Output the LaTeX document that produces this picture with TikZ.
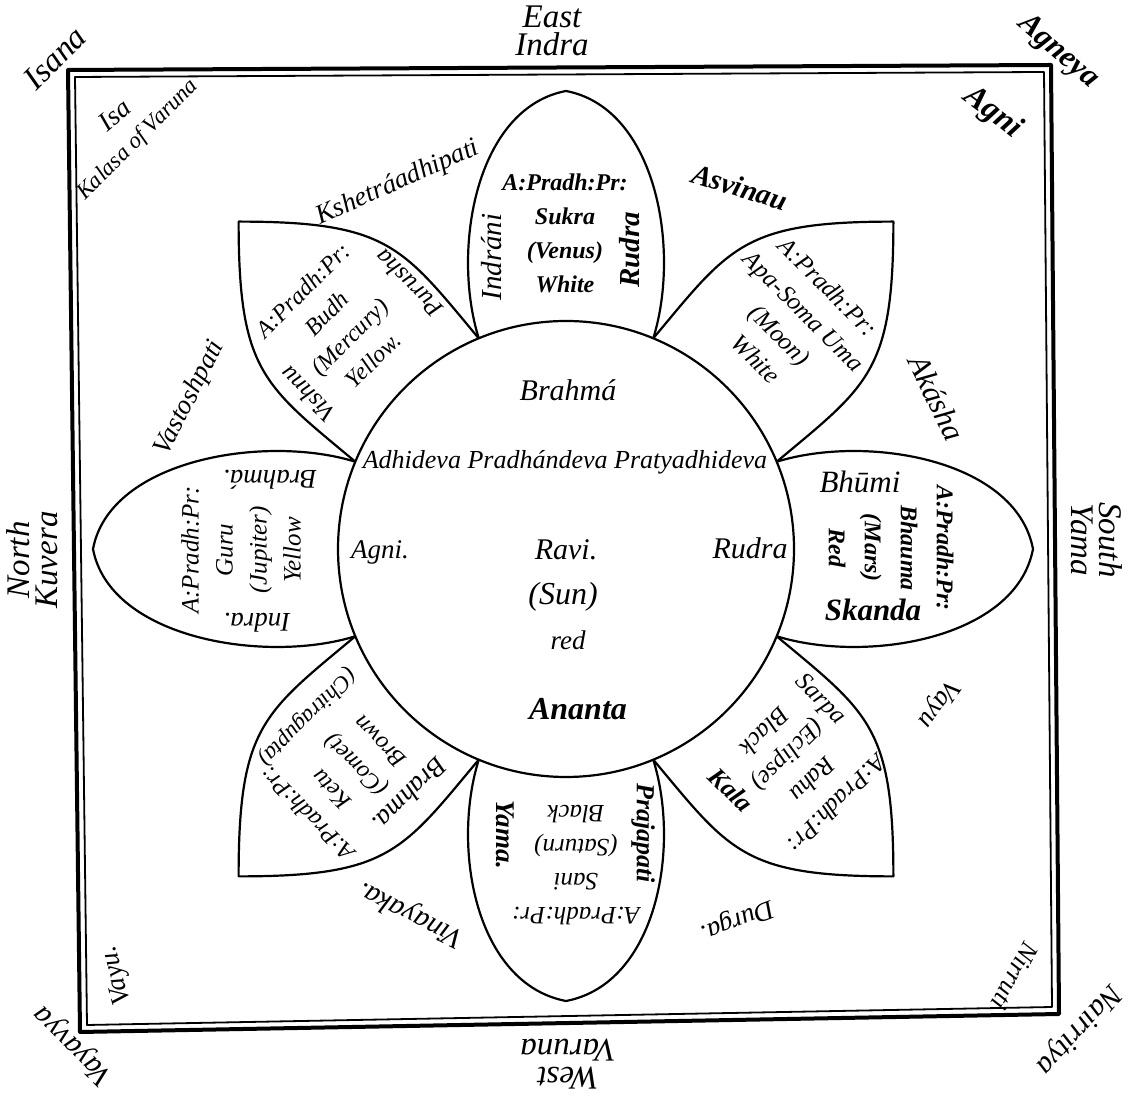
\documentclass[tikz,border=0pt]{standalone}
\usepackage{fontspec}
\setmainfont{Liberation Serif}
\usepackage{tikz}
\definecolor{ink}{RGB}{0,0,0}

\begin{document}
\begin{tikzpicture}[x=1pt,y=1pt,
    petal/.style={draw=ink, line width=2.2pt, line join=round},
    txt/.style={text=ink, inner sep=0pt, font=\fontsize{27}{34}\selectfont\itshape},
    heavy/.style={txt, font=\fontsize{29}{34}\selectfont\bfseries\itshape},
    quarter/.style={text=ink, inner sep=0pt, align=center, font=\fontsize{33}{28}\selectfont\itshape},
    leafline/.style={text=ink, inner sep=0pt, align=center, font=\fontsize{25}{34}\selectfont\itshape}]
    \useasboundingbox (0,0) rectangle (1132,1097);

    % double frame
    \draw[ink, line width=4pt, line join=round] (68,1027) -- (1051,1032) -- (1059,83) -- (80,65) -- cycle;
    \draw[ink, line width=1.8pt, line join=round] (75,1020) -- (1044,1025) -- (1052,90) -- (87,72) -- cycle;

    % disc in the middle
    \coordinate (C) at (566,548);
    \draw[petal] (C) circle (228);

    % cardinal leaves, pointed
    \foreach \ang/\tip in {0/467,90/458,180/473,270/452}
      \draw[petal, shift={(C)}, rotate=\ang]
        (22.5:228) .. controls (300,115) and (\tip-17,90) .. (\tip,0)
        .. controls (\tip-17,-90) and (300,-115) .. (-22.5:228);

    % corner leaves, square tipped
    \foreach \ang in {45,135,225,315}
      \draw[petal, shift={(C)}, rotate=\ang]
        (22.5:228) .. controls (330,98) and (357,106) .. (463,0)
        .. controls (357,-106) and (330,-98) .. (-22.5:228);

    % quarters, outside the frame
    \node[quarter] (east) at (552,1066) {East\\Indra};
    \node[quarter, rotate=90] (north) at (32,537) {North\\Kuvera};
    \node[quarter, rotate=-90] (south) at (1097,557) {South\\Yama};
    \node[quarter, rotate=180] (west) at (568,33) {West\\Varuna};
    \node[quarter, rotate=45] (isana) at (55,1039) {Isana};
    \node[quarter, font=\fontsize{31}{28}\selectfont\bfseries\itshape, rotate=-41] (agneya) at (1058,1045) {Agneya};
    \node[quarter, font=\fontsize{30}{28}\selectfont\itshape, rotate=135] (vayavya) at (74,52) {Vayavya};
    \node[quarter, font=\fontsize{30}{28}\selectfont\itshape, rotate=-132] (nairritya) at (1078,68) {Nairritya};

    % inner corners
    \node[txt, rotate=40] (isa) at (115,982) {Isa};
    \node[txt, font=\fontsize{23}{28}\selectfont\itshape, rotate=45] (kalasa) at (138,957) {Kalasa of Varuna};
    \node[heavy, font=\fontsize{32}{34}\selectfont\bfseries\itshape, rotate=-37] (agni) at (993,984) {Agni};
    \node[txt, rotate=105] (vayuin) at (117,122) {Vayu.};
    \node[txt, font=\fontsize{26}{34}\selectfont\itshape, rotate=-118] (nirruti) at (1015,121) {Nirruti};

    % between the leaves
    \node[txt, rotate=24] (kshetra) at (398,914) {Kshetráadhipati};
    \node[heavy, rotate=-17] (asvinau) at (740,910) {Asvinau};
    \node[txt, rotate=63] (vastosh) at (190,699) {Vastoshpati};
    \node[txt, font=\fontsize{31}{34}\selectfont\itshape, rotate=-64] (akasha) at (937,699) {Akásha};
    \node[txt, font=\fontsize{29}{34}\selectfont\itshape, rotate=153] (vinayaka) at (411,183) {Vinayaka.};
    \node[txt, rotate=-159] (durga) at (737,177) {Durga.};
    \node[txt, rotate=-125] (vayuout) at (938,394) {Vayu};

    % the disc
    \node[txt, font=\fontsize{30}{34}\selectfont\itshape] (brahma) at (568,707) {Brahmá};
    \node[txt, font=\fontsize{26}{30}\selectfont\itshape] (devas) at (565,635) {Adhideva Pradhándeva Pratyadhideva};
    \node[txt] (agnic) at (380,545) {Agni.};
    \node[txt, font=\fontsize{30}{34}\selectfont\itshape] (ravi) at (566,547) {Ravi.};
    \node[txt, font=\fontsize{32}{34}\selectfont\itshape] (sun) at (563,500) {(Sun)};
    \node[txt] (red) at (568,457) {red};
    \node[txt, font=\fontsize{30}{34}\selectfont\itshape] (rudrac) at (750,549) {Rudra};
    \node[heavy, font=\fontsize{32}{34}\selectfont\bfseries\itshape] (ananta) at (578,388) {Ananta};

    % leaf, east (top)
    \node[leafline, font=\fontsize{24}{34}\selectfont\bfseries\itshape] (sukra) at (565,864) {A:Pradh:Pr:\\Sukra\\(Venus)\\White};
    \node[txt, font=\fontsize{29}{34}\selectfont\itshape, rotate=90] (indrani) at (492,840) {Indráni};
    \node[heavy, rotate=90] (rudran) at (630,847) {Rudra};

    % leaf, agneya
    \node[leafline, rotate=-45] (soma) at (792,774) {A:Pradh:Pr:\\Apa-Soma Uma\\(Moon)\\White};

    % leaf, south (right)
    \node[leafline, font=\fontsize{24}{36}\selectfont\bfseries\itshape, rotate=-90] (bhauma) at (891,549) {A:Pradh:Pr:\\Bhauma\\(Mars)\\Red};
    \node[txt, font=\fontsize{31}{34}\selectfont\itshape] (bhumi) at (860,615) {Bhūmi};
    \node[heavy, font=\fontsize{31}{34}\selectfont\bfseries\itshape] (skanda) at (873,487) {Skanda};

    % leaf, nairritya
    \node[leafline, rotate=-135] (rahu) at (801,329) {A:Pradh:Pr:\\Rahu\\(Eclipse)\\Black};
    \node[txt, font=\fontsize{25}{34}\selectfont\itshape, rotate=-45] (sarpa) at (820,397) {Sarpa};
    \node[heavy, font=\fontsize{26}{34}\selectfont\bfseries\itshape, rotate=-45] (kala) at (731,307) {Kala};

    % leaf, west (bottom)
    \node[leafline, rotate=180] (sani) at (576,232) {A:Pradh:Pr:\\Sani\\(Saturn)\\Black};
    \node[heavy, font=\fontsize{27}{34}\selectfont\bfseries\itshape, rotate=-90] (yama) at (505,262) {Yama.};
    \node[heavy, font=\fontsize{26}{34}\selectfont\bfseries\itshape, rotate=-90] (praja) at (643,264) {Prajapati};

    % leaf, vayavya
    \node[leafline, font=\fontsize{24}{34}\selectfont\itshape, rotate=135] (ketu) at (343,319) {A:Pradh:Pr:\\Ketu\\(Comet)\\Brown};
    \node[txt, font=\fontsize{23}{34}\selectfont\itshape, rotate=-135] (chitra) at (307,380) {(Chitragupta)};
    \node[txt, rotate=-135] (brahmasw) at (410,302) {Brahma.};

    % leaf, north (left)
    \node[leafline, rotate=90] (guru) at (241,547) {A:Pradh:Pr:\\Guru\\(Jupiter)\\Yellow};
    \node[txt, rotate=180] (brahmaw) at (270,617) {Brahmá.};
    \node[txt, rotate=180] (indraw) at (257,474) {Indra.};

    % leaf, isana
    \node[leafline, font=\fontsize{24}{33}\selectfont\itshape, rotate=45] (budh) at (338,772) {A:Pradh:Pr:\\Budh\\(Mercury)\\Yellow.};
    \node[txt, font=\fontsize{25}{34}\selectfont\itshape, rotate=135] (purusha) at (409,813) {Purusha};
    \node[txt, font=\fontsize{25}{34}\selectfont\itshape, rotate=135] (vishnu) at (308,702) {Vishnu};
\end{tikzpicture}
\end{document}
